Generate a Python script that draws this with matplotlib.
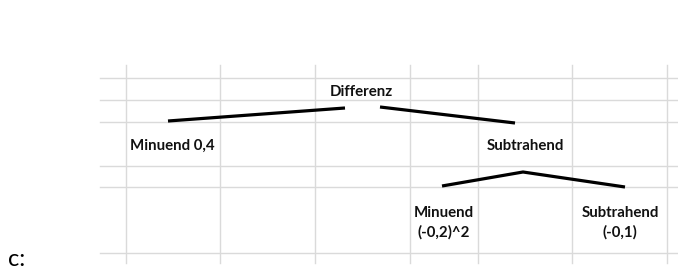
import matplotlib
matplotlib.use("Agg")

import matplotlib.pyplot as plt

# --- Spreadsheet grid (pixel positions of the cell borders) ---
grid_cols = [126, 220, 315, 410, 478, 572, 667]
grid_rows = [78, 100, 122, 166, 187, 253]
grid_left, grid_right = 100, 678
grid_top, grid_bottom = 65, 263

# --- Tree nodes: label, x, y ---
node_labels = ["Differenz", "Minuend 0,4", "Subtrahend", "Minuend\n(-0,2)^2", "Subtrahend\n(-0,1)"]
node_x = [361, 172, 525, 444, 620]
node_y = [92, 146, 146, 223, 223]

# --- Branch strokes (x list, y list per stroke) ---
branch_x = [[168, 345], [380, 515], [442, 523, 625]]
branch_y = [[121, 108], [107, 123], [186, 172, 187]]

fig = plt.figure(figsize=(6.78, 2.77), dpi=100)
ax = fig.add_axes([0, 0, 1, 1])
ax.set_xlim(0, 678)
ax.set_ylim(277, 0)
ax.axis("off")

for gx in grid_cols:
    ax.plot([gx, gx], [grid_top, grid_bottom], color="#dadada", lw=1.0, zorder=1)
for gy in grid_rows:
    ax.plot([grid_left, grid_right], [gy, gy], color="#dadada", lw=1.0, zorder=1)

for bx, by in zip(branch_x, branch_y):
    ax.plot(bx, by, color="black", lw=2.3, solid_capstyle="butt", zorder=3)

for label, x, y in zip(node_labels, node_x, node_y):
    ax.text(x, y, label, ha="center", va="center", fontsize=10.8, fontweight="bold",
            family="Lato", color="#111111", linespacing=1.4, zorder=4)

ax.text(8, 259, "c:", ha="left", va="center", fontsize=17, family="Lato", color="black")

fig.savefig("out.png", dpi=100)
